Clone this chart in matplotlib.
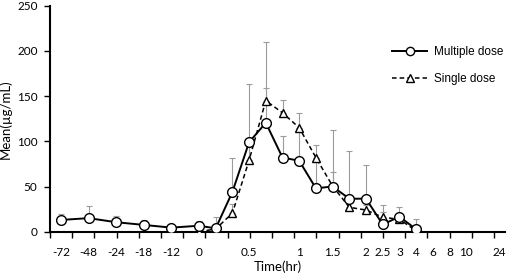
import numpy as np
import matplotlib
matplotlib.use('Agg')
import matplotlib.pyplot as plt

# sampling times (hr); pre-dose samples are spaced wider on the axis
pre_times = [-72, -48, -24, -18, -12]
post_times = [0, 0.17, 0.33, 0.5, 0.67, 0.83, 1, 1.25, 1.5, 1.75, 2, 2.5, 3, 4, 6, 8, 10, 12, 24]

multi_t = [-72, -48, -24, -18, -12, 0, 0.17, 0.33, 0.5, 0.67, 0.83, 1, 1.25, 1.5, 1.75, 2, 2.5, 3, 4]
multi_mean = [13, 15, 10.5, 7.5, 4.5, 6.6, 3.7, 44, 99, 120.5, 82, 78.5, 48, 50, 36.5, 36.5, 8, 16.6, 2.7]
multi_sd = [7, 13.5, 7, 5.5, 2, 5.5, 13, 37, 64, 39, 24, 36, 33, 63, 52.5, 37, 14, 11, 11]

single_t = [0, 0.17, 0.33, 0.5, 0.67, 0.83, 1, 1.25, 1.5, 1.75, 2, 2.5, 3, 4]
single_mean = [0, 3, 20.5, 79, 145, 131.5, 115, 82, 50.5, 27, 24, 16, 13.7, 1]
single_sd = [0, 0, 10, 15, 65, 14, 16, 14, 15, 13.5, 5, 13.5, 5, 3]

tick_times = [-72, -48, -24, -18, -12, 0, 0.5, 1, 1.5, 2, 2.5, 3, 4, 6, 8, 10, 24]
tick_labels = ['-72', '-48', '-24', '-18', '-12', '0', '0.5', '1', '1.5', '2', '2.5',
               '3', '4', '6', '8', '10', '24']

PRE_STEP = 1.653


def pos(t):
    if t in pre_times:
        return -(len(pre_times) - pre_times.index(t)) * PRE_STEP
    return float(post_times.index(t))


def main():
    plt.rcParams['font.family'] = ['Lato', 'DejaVu Sans']
    fig = plt.figure(figsize=(5.12, 2.78), dpi=100)
    ax = fig.add_axes([50 / 512, 1 - 231.7 / 278, 455 / 512, 226 / 278])

    mx = [pos(t) for t in multi_t]
    sx = [pos(t) for t in single_t]
    gray = '#9c9c9c'

    ax.errorbar(mx, multi_mean, yerr=[np.zeros(len(multi_sd)), multi_sd], fmt='none',
                ecolor=gray, elinewidth=0.8, capsize=2, capthick=0.8, zorder=1)
    ax.errorbar(sx, single_mean, yerr=[np.zeros(len(single_sd)), single_sd], fmt='none',
                ecolor=gray, elinewidth=0.8, capsize=2, capthick=0.8, zorder=1)

    ax.plot(mx, multi_mean, '-', color='black', lw=1.4, marker='o', ms=7,
            mfc='white', mec='black', mew=1.0, label='Multiple dose', zorder=4)
    ax.plot(sx, single_mean, '--', color='black', lw=1.1, dashes=(3, 2), marker='^',
            ms=6, mfc='white', mec='black', mew=1.0, label='Single dose', zorder=3)

    x0 = -149 / 16.7
    ax.set_xlim(x0, 306 / 16.7)
    ax.set_ylim(0, 250)

    ax.set_xticks([pos(t) for t in tick_times])
    ax.set_xticklabels(tick_labels)
    ax.set_xticks(x0 + np.arange(21) * 22.2 / 16.7, minor=True)
    ax.tick_params(axis='x', which='major', length=0, pad=11, labelsize=8.5)
    ax.tick_params(axis='x', which='minor', length=4, width=1, direction='out')
    ax.set_yticks(np.arange(0, 251, 50))
    ax.tick_params(axis='y', length=4, width=1, direction='out', pad=5, labelsize=8.5)

    for s in ['top', 'right']:
        ax.spines[s].set_visible(False)
    for s in ['left', 'bottom']:
        ax.spines[s].set_linewidth(1.5)

    ax.set_xlabel('Time(hr)', fontsize=9.5, labelpad=2)
    ax.set_ylabel('Mean(µg/mL)', fontsize=9.5, labelpad=4)

    fig.legend(loc='upper left', bbox_to_anchor=(386 / 512, 1 - 40 / 278), frameon=False,
               prop={'family': 'Liberation Sans', 'size': 8.5}, handlelength=3,
               handletextpad=0.6, labelspacing=1.3, borderpad=0, numpoints=1,
               markerscale=0.85)

    fig.savefig('out.png', dpi=100)


if __name__ == '__main__':
    main()
